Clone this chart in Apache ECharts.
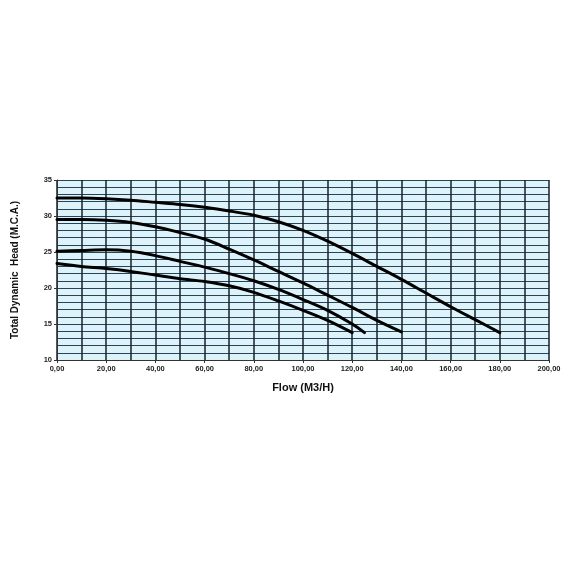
<!DOCTYPE html>
<html>
<head>
<meta charset="utf-8">
<script src="https://cdn.jsdelivr.net/npm/echarts@6/dist/echarts.min.js"></script>
<style>
  html, body { margin: 0; padding: 0; background: #fff; }
  #chart { width: 570px; height: 570px; }
</style>
</head>
<body>
<div id="chart"></div>
<script>
// pump curves: flow (M3/H) -> head (M.C.A.)
var flows1 = [0, 10, 20, 30, 40, 50, 60, 70, 80, 90, 100, 110, 120, 130, 140, 150, 160, 170, 180];
var head1 = [32.5, 32.5, 32.4, 32.2, 31.9, 31.6, 31.2, 30.7, 30.1, 29.2, 28.0, 26.5, 24.8, 23.0, 21.2, 19.3, 17.4, 15.6, 13.8];

var flows2 = [0, 10, 20, 30, 40, 50, 60, 70, 80, 90, 100, 110, 120, 130, 140];
var head2 = [29.5, 29.5, 29.4, 29.1, 28.5, 27.7, 26.8, 25.4, 23.9, 22.3, 20.7, 19.0, 17.3, 15.5, 13.9];

var flows3 = [0, 10, 20, 30, 40, 50, 60, 70, 80, 90, 100, 110, 120, 125];
var head3 = [25.1, 25.2, 25.3, 25.1, 24.5, 23.7, 22.9, 22.0, 21.0, 19.8, 18.4, 16.9, 15.0, 13.8];

var flows4 = [0, 10, 20, 30, 40, 50, 60, 70, 80, 90, 100, 110, 120];
var head4 = [23.4, 23.0, 22.7, 22.3, 21.8, 21.3, 20.9, 20.3, 19.4, 18.2, 16.9, 15.5, 13.8];

var xTicks = [0, 20, 40, 60, 80, 100, 120, 140, 160, 180, 200];
var yTicks = [10, 15, 20, 25, 30, 35];

function pairs(xs, ys) {
  return xs.map(function (x, i) { return [x, ys[i]]; });
}

var labelFont = { fontFamily: 'Liberation Sans', fontWeight: 'bold', fontSize: 7.5, color: '#222' };

function curve(xs, ys) {
  return {
    type: 'line', data: pairs(xs, ys), smooth: 0.3,
    showSymbol: false, lineStyle: { color: '#000', width: 3, cap: 'round', join: 'round' }
  };
}

var chart = echarts.init(document.getElementById('chart'));
chart.setOption({
  animation: false,
  grid: {
    left: 57, right: 21, top: 180, bottom: 210,
    show: true, backgroundColor: '#def3f9', borderWidth: 0
  },
  xAxis: {
    type: 'value', min: 0, max: 200, interval: 20,
    name: 'Flow (M3/H)', nameLocation: 'middle', nameGap: 22,
    nameTextStyle: { fontFamily: 'Liberation Sans', fontWeight: 'bold', fontSize: 11, color: '#111' },
    axisLine: { lineStyle: { color: '#333', width: 1 } },
    axisTick: { show: true, length: 3, lineStyle: { color: '#333' } },
    axisLabel: Object.assign({ margin: 5, formatter: function (v) {
      return xTicks.indexOf(v) >= 0 ? v.toFixed(2).replace('.', ',') : '';
    } }, labelFont),
    splitLine: { show: true, lineStyle: { color: '#16222d', width: 1.5 } },
    minorTick: { show: false, splitNumber: 2 },
    minorSplitLine: { show: true, lineStyle: { color: '#16222d', width: 1.5 } }
  },
  yAxis: {
    type: 'value', min: 10, max: 35, interval: 5,
    name: 'Total Dynamic  Head (M.C.A.)', nameLocation: 'middle', nameGap: 37, nameRotate: 90,
    nameTextStyle: { fontFamily: 'Liberation Sans', fontWeight: 'bold', fontSize: 10, color: '#111' },
    axisLine: { show: true, lineStyle: { color: '#333', width: 1 } },
    axisTick: { show: true, length: 3, lineStyle: { color: '#333' } },
    axisLabel: Object.assign({ margin: 5, formatter: function (v) {
      return yTicks.indexOf(v) >= 0 ? String(v) : '';
    } }, labelFont),
    splitLine: { show: true, lineStyle: { color: '#24455a', width: 1.2 } },
    minorTick: { show: false, splitNumber: 5 },
    minorSplitLine: { show: true, lineStyle: { color: '#24455a', width: 1.2 } }
  },
  series: [
    curve(flows1, head1),
    curve(flows2, head2),
    curve(flows3, head3),
    curve(flows4, head4)
  ]
});
</script>
</body>
</html>
